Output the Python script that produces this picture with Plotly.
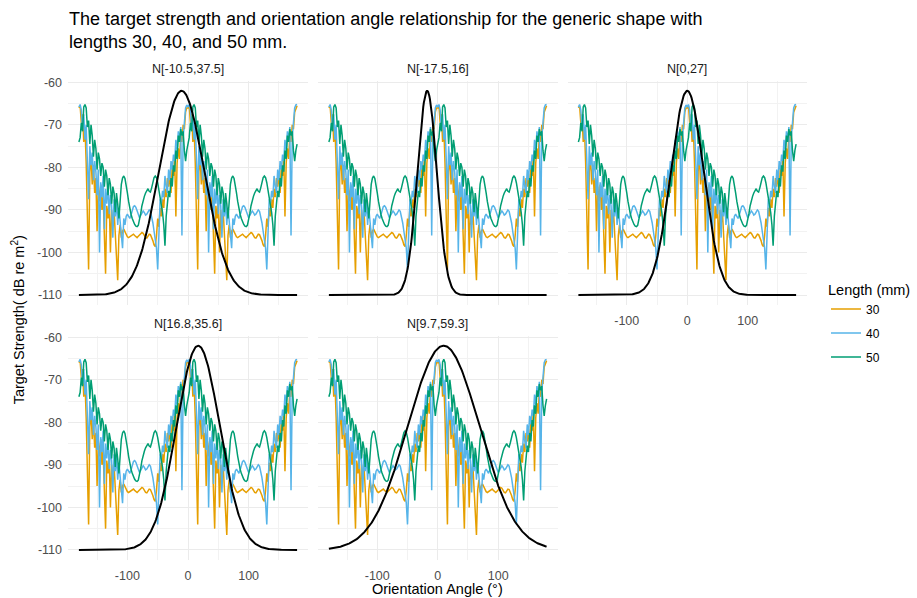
import numpy as np
import plotly.graph_objects as go

W, H = 917, 598

# Orientation angle grid (degrees), 2-degree steps
angles = list(range(-180, 181, 2))

# Target strength (dB re m^2) for each body length, angles -180 .. -2
ts30_neg = [
    -66.0, -65.5, -69.5, -67.5, -74.0, -70.5, -79.0, -89.0, -104.0, -81.0,
    -77.5, -84.0, -79.5, -86.0, -82.5, -95.0, -84.5, -88.0, -84.0, -90.0,
    -86.5, -96.0, -105.0, -89.0, -92.0, -88.0, -100.0, -90.0, -93.5, -90.0,
    -95.5, -99.0, -106.5, -96.0, -93.5, -96.5, -95.0, -94.5, -95.2, -95.8,
    -96.3, -96.5, -96.3, -96.0, -95.8, -95.7, -96.0, -96.3, -96.5, -96.2,
    -95.8, -95.5, -95.3, -95.5, -96.0, -96.5, -96.6, -96.2, -95.7, -95.8,
    -96.4, -97.2, -98.2, -98.6, -96.0, -92.0, -94.0, -89.5, -91.5, -87.5,
    -89.5, -85.0, -87.0, -82.5, -84.5, -81.5, -86.0, -79.5, -82.0, -77.5,
    -91.5, -79.0, -75.5, -78.0, -72.5, -74.0, -70.0, -71.0, -67.0, -66.0,
]
# angles 0 .. 180
ts30_pos = [
    -66.0, -65.5, -69.5, -67.5, -74.0, -70.5, -79.0, -89.0, -104.0, -81.0,
    -77.5, -84.0, -79.5, -86.0, -82.5, -95.0, -84.5, -88.0, -84.0, -90.0,
    -86.5, -96.0, -105.0, -89.0, -92.0, -88.0, -100.0, -90.0, -93.5, -90.0,
    -95.5, -99.0, -106.5, -96.0, -93.5, -96.5, -95.0, -94.5, -95.2, -95.8,
    -96.3, -96.5, -96.3, -96.0, -95.8, -95.7, -96.0, -96.3, -96.5, -96.2,
    -95.8, -95.5, -95.3, -95.5, -96.0, -96.5, -96.6, -96.2, -95.7, -95.8,
    -96.4, -97.2, -98.2, -98.6, -96.0, -92.0, -94.0, -89.5, -91.5, -87.5,
    -89.5, -85.0, -87.0, -82.5, -84.5, -81.5, -86.0, -79.5, -82.0, -77.5,
    -91.5, -79.0, -75.5, -78.0, -72.5, -74.0, -70.0, -71.0, -67.0, -66.0,
    -65.5,
]

ts40_neg = [
    -65.8, -65.2, -66.5, -71.0, -67.5, -73.5, -70.0, -78.0, -87.5, -75.0,
    -79.5, -76.5, -83.0, -78.5, -81.0, -86.5, -80.5, -100.0, -83.5, -87.0,
    -82.0, -94.5, -85.0, -88.5, -84.0, -91.0, -86.5, -89.0, -96.5, -87.5,
    -91.5, -88.0, -93.5, -89.5, -92.5, -96.0, -99.0, -92.0, -93.5, -91.5,
    -91.0, -91.5, -92.0, -91.2, -90.0, -89.2, -89.0, -89.4, -90.2, -91.2,
    -91.8, -91.3, -90.6, -90.2, -90.6, -91.2, -91.0, -90.4, -90.0, -90.3,
    -91.4, -93.0, -95.0, -97.5, -99.0, -104.0, -92.5, -87.5, -88.5, -85.5,
    -87.0, -82.0, -84.5, -86.0, -80.5, -83.0, -78.5, -80.5, -77.0, -78.5,
    -73.5, -76.0, -71.5, -73.5, -70.5, -96.0, -73.0, -68.5, -66.0, -65.3,
]
ts40_pos = [
    -65.8, -65.2, -66.5, -71.0, -67.5, -73.5, -70.0, -78.0, -87.5, -75.0,
    -79.5, -76.5, -83.0, -78.5, -81.0, -86.5, -80.5, -100.0, -83.5, -87.0,
    -82.0, -94.5, -85.0, -88.5, -84.0, -91.0, -86.5, -89.0, -96.5, -87.5,
    -91.5, -88.0, -93.5, -89.5, -92.5, -96.0, -99.0, -92.0, -93.5, -91.5,
    -91.0, -91.5, -92.0, -91.2, -90.0, -89.2, -89.0, -89.4, -90.2, -91.2,
    -91.8, -91.3, -90.6, -90.2, -90.6, -91.2, -91.0, -90.4, -90.0, -90.3,
    -91.4, -93.0, -95.0, -97.5, -99.0, -104.0, -92.5, -87.5, -88.5, -85.5,
    -87.0, -82.0, -84.5, -86.0, -80.5, -83.0, -78.5, -80.5, -77.0, -78.5,
    -73.5, -76.0, -71.5, -73.5, -70.5, -96.0, -73.0, -68.5, -66.0, -65.3,
    -65.2,
]

ts50_neg = [
    -74.0, -73.0, -69.5, -71.5, -65.8, -65.2, -66.0, -70.5, -69.0, -74.5,
    -70.0, -72.5, -77.5, -73.5, -75.5, -80.5, -76.5, -78.0, -82.0, -79.0,
    -80.0, -84.5, -80.5, -82.0, -86.5, -82.5, -84.0, -88.5, -84.5, -86.0,
    -90.5, -86.0, -88.5, -92.0, -88.0, -84.0, -82.5, -82.0, -82.6, -84.0,
    -86.0, -88.0, -89.7, -91.0, -92.0, -92.8, -93.4, -93.8, -93.9, -93.6,
    -92.5, -90.8, -89.0, -87.6, -86.8, -86.0, -85.3, -85.0, -85.6, -85.8,
    -84.8, -83.4, -82.4, -82.0, -82.4, -83.6, -85.2, -87.2, -88.8, -90.6,
    -93.5, -98.4, -91.5, -88.0, -85.5, -87.0, -82.5, -84.5, -79.5, -81.0,
    -76.0, -78.0, -72.5, -74.0, -71.0, -72.5, -71.5, -76.0, -78.5, -76.0,
]
ts50_pos = [
    -74.0, -73.0, -69.5, -71.5, -65.8, -65.2, -66.0, -70.5, -69.0, -74.5,
    -70.0, -72.5, -77.5, -73.5, -75.5, -80.5, -76.5, -78.0, -82.0, -79.0,
    -80.0, -84.5, -80.5, -82.0, -86.5, -82.5, -84.0, -88.5, -84.5, -86.0,
    -90.5, -86.0, -88.5, -92.0, -88.0, -84.0, -82.5, -82.0, -82.6, -84.0,
    -86.0, -88.0, -89.7, -91.0, -92.0, -92.8, -93.4, -93.8, -93.9, -93.6,
    -92.5, -90.8, -89.0, -87.6, -86.8, -86.0, -85.3, -85.0, -85.6, -85.8,
    -84.8, -83.4, -82.4, -82.0, -82.4, -83.6, -85.2, -87.2, -88.8, -90.6,
    -93.5, -98.4, -91.5, -88.0, -85.5, -87.0, -82.5, -84.5, -79.5, -81.0,
    -76.0, -78.0, -72.5, -74.0, -71.0, -72.5, -71.5, -76.0, -78.5, -76.0,
    -74.5,
]

ts30 = ts30_neg + ts30_pos
ts40 = ts40_neg + ts40_pos
ts50 = ts50_neg + ts50_pos

lengths = ["30", "40", "50"]
series = [ts30, ts40, ts50]
colors = ["#E69F00", "#56B4E9", "#009E73"]

# Axis tick labels (plain hyphen minus)
x_ticks = [-100, 0, 100]
x_tick_text = ["-100", "0", "100"]
y_ticks = [-110, -100, -90, -80, -70, -60]
y_tick_text = ["-110", "-100", "-90", "-80", "-70", "-60"]

# Orientation distributions N[mean, sd] shown in each panel
panel_means = [-10.5, -17.5, 0.0, 16.8, 9.7]
panel_sds = [37.5, 16.0, 27.0, 35.6, 59.3]
panel_titles = ["N[-10.5,37.5]", "N[-17.5,16]", "N[0,27]", "N[16.8,35.6]", "N[9.7,59.3]"]
dist_floor, dist_peak = -110.0, -62.0
dist_angles = np.arange(-180.0, 180.5, 1.0)

FONT = "Liberation Sans, Arial, sans-serif"

# panel placement in pixels (facet grid 2 x 3, last cell empty)
col_px = [(68.0, 308.0), (318.0, 557.5), (567.5, 807.0)]
row_px = [(76.3, 302.8), (333.3, 559.8)]
panel_cells = [(0, 0), (0, 1), (0, 2), (1, 0), (1, 1)]


def fx(p):
    return p / W


def fy(p):
    return 1 - p / H


fig = go.Figure()
layout_axes = {}
annotations = []

for i, (r, c) in enumerate(panel_cells):
    sfx = "" if i == 0 else str(i + 1)
    xa, ya = "x" + sfx, "y" + sfx
    for name, vals, col in zip(lengths, series, colors):
        fig.add_trace(go.Scatter(
            x=angles, y=vals, mode="lines", name=name, legendgroup=name,
            showlegend=(i == 0), line=dict(color=col, width=1.5),
            xaxis=xa, yaxis=ya))
    mu, sd = panel_means[i], panel_sds[i]
    dist = dist_floor + (dist_peak - dist_floor) * np.exp(-0.5 * ((dist_angles - mu) / sd) ** 2)
    fig.add_trace(go.Scatter(
        x=dist_angles, y=dist, mode="lines", showlegend=False,
        line=dict(color="black", width=2), xaxis=xa, yaxis=ya))

    x0, x1 = col_px[c]
    y0, y1 = row_px[r]
    show_x = (r == 1) or (c == 2)
    show_y = (c == 0)
    layout_axes["xaxis" + sfx] = dict(
        domain=[fx(x0), fx(x1)], anchor=ya, range=[-198, 198],
        tickmode="array", tickvals=x_ticks, ticktext=x_tick_text,
        showticklabels=show_x, ticks="", zeroline=False, showline=False,
        gridcolor="#EBEBEB", gridwidth=1.1,
        minor=dict(tick0=50, dtick=100, showgrid=True, gridcolor="#F2F2F2", gridwidth=0.8),
        tickfont=dict(family=FONT, size=12.5, color="#4D4D4D"),
        ticklabelstandoff=6,
    )
    layout_axes["yaxis" + sfx] = dict(
        domain=[fy(y1), fy(y0)], anchor=xa, range=[-112.4, -59.6],
        tickmode="array", tickvals=y_ticks, ticktext=y_tick_text,
        showticklabels=show_y, ticks="", zeroline=False, showline=False,
        gridcolor="#EBEBEB", gridwidth=1.1,
        minor=dict(tick0=-105, dtick=10, showgrid=True, gridcolor="#F2F2F2", gridwidth=0.8),
        tickfont=dict(family=FONT, size=12.5, color="#4D4D4D"),
        ticklabelstandoff=5,
    )
    annotations.append(dict(
        text=panel_titles[i], xref="paper", yref="paper",
        x=fx((x0 + x1) / 2), y=fy(y0 - 11.5), xanchor="center", yanchor="middle",
        showarrow=False, font=dict(family=FONT, size=12.5, color="#1A1A1A")))

# Chart title (two lines)
annotations.append(dict(
    text=("The target strength and orientation angle relationship for the generic shape with"
          "<br>lengths 30, 40, and 50 mm."),
    xref="paper", yref="paper", x=fx(67), y=fy(25.5), xanchor="left", yanchor="middle",
    align="left", showarrow=False, font=dict(family=FONT, size=18, color="black")))

# Axis titles
annotations.append(dict(
    text="Orientation Angle (°)", xref="paper", yref="paper",
    x=fx(437.5), y=fy(589), xanchor="center", yanchor="middle",
    showarrow=False, font=dict(family=FONT, size=14.5, color="black")))
annotations.append(dict(
    text="Target Strength( dB re m<sup>2</sup>)", xref="paper", yref="paper",
    x=fx(18), y=fy(318), xanchor="center", yanchor="middle", textangle=-90,
    showarrow=False, font=dict(family=FONT, size=14.5, color="black")))

fig.update_layout(
    width=W, height=H, autosize=False,
    margin=dict(l=0, r=0, t=0, b=0),
    paper_bgcolor="white", plot_bgcolor="white",
    annotations=annotations,
    showlegend=True,
    legend=dict(
        x=fx(826), y=fy(273), xanchor="left", yanchor="top",
        title=dict(text="Length (mm)", font=dict(family=FONT, size=14.5, color="black")),
        font=dict(family=FONT, size=12, color="black"),
        tracegroupgap=5, bgcolor="rgba(0,0,0,0)", itemwidth=30,
    ),
    **layout_axes,
)

fig.write_html("out.html")
